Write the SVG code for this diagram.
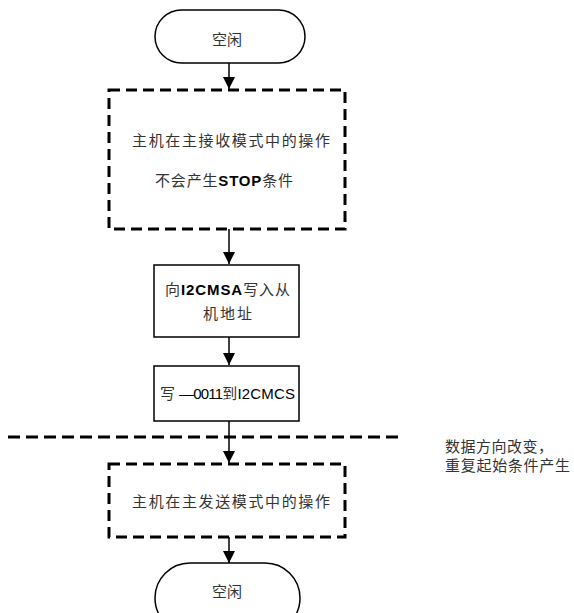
<svg xmlns="http://www.w3.org/2000/svg" width="574" height="613" viewBox="0 0 574 613">
<defs>
<style>
.t{font-family:"Liberation Serif","Noto Sans CJK SC",serif;font-size:15px;fill:#333}
.b{font-family:"Liberation Sans",Arial,sans-serif;font-weight:bold;fill:#000}
.r{font-family:"Liberation Sans",Arial,sans-serif;fill:#000}
.solid{fill:#fff;stroke:#000;stroke-width:1.5}
.dash{fill:none;stroke:#000;stroke-width:3;stroke-dasharray:11 6}
.ln{stroke:#000;stroke-width:1.5;fill:none}
</style>
<marker id="ah" markerWidth="12" markerHeight="12" refX="12" refY="6" orient="auto" markerUnits="userSpaceOnUse">
<path d="M0,0 L12,6 L0,12 Z" fill="#000"/>
</marker>
</defs>
<rect width="574" height="613" fill="#fff"/>
<g id="connectors">
<line class="ln" x1="229" y1="63" x2="229" y2="89" marker-end="url(#ah)"/>
<line class="ln" x1="229" y1="229" x2="229" y2="264" marker-end="url(#ah)"/>
<line class="ln" x1="229" y1="337" x2="229" y2="365" marker-end="url(#ah)"/>
<line class="ln" x1="229" y1="421" x2="229" y2="463" marker-end="url(#ah)"/>
<line class="ln" x1="229" y1="537" x2="229" y2="563" marker-end="url(#ah)"/>
</g>
<g id="divider">
<line x1="8" y1="437" x2="398" y2="437" stroke="#000" stroke-width="3" stroke-dasharray="12 6"/>
<text class="t" x="445" y="452" textLength="108" lengthAdjust="spacing">数据方向改变，</text>
<text class="t" x="445" y="471" textLength="125" lengthAdjust="spacing">重复起始条件产生</text>
</g>
<g id="start">
<rect class="solid" x="155" y="10" width="150" height="53" rx="26.5"/>
<text class="t" x="212" y="45" textLength="30" lengthAdjust="spacing">空闲</text>
</g>
<g id="recv">
<rect class="dash" x="109" y="90" width="236" height="139"/>
<text class="t" x="132" y="146" textLength="198" lengthAdjust="spacing">主机在主接收模式中的操作</text>
<text class="t" x="155" y="186" textLength="138" lengthAdjust="spacing">不会产生<tspan class="b">STOP</tspan>条件</text>
</g>
<g id="write-addr">
<rect class="solid" x="154" y="265" width="145" height="72"/>
<text class="t" x="165" y="295" textLength="125" lengthAdjust="spacing">向<tspan class="b">I2CMSA</tspan>写入从</text>
<text class="t" x="203" y="319" textLength="49" lengthAdjust="spacing">机地址</text>
</g>
<g id="write-cs">
<rect class="solid" x="154" y="366" width="145" height="55"/>
<text class="t" x="160" y="399" textLength="135" lengthAdjust="spacing">写 <tspan class="r" letter-spacing="-1">—0011</tspan>到<tspan class="r">I2CMCS</tspan></text>
</g>
<g id="send">
<rect class="dash" x="109" y="464" width="236" height="73"/>
<text class="t" x="132" y="507" textLength="198" lengthAdjust="spacing">主机在主发送模式中的操作</text>
</g>
<g id="end">
<rect class="solid" x="155" y="563" width="145" height="70" rx="35"/>
<text class="t" x="212" y="597" textLength="30" lengthAdjust="spacing">空闲</text>
</g>
</svg>
